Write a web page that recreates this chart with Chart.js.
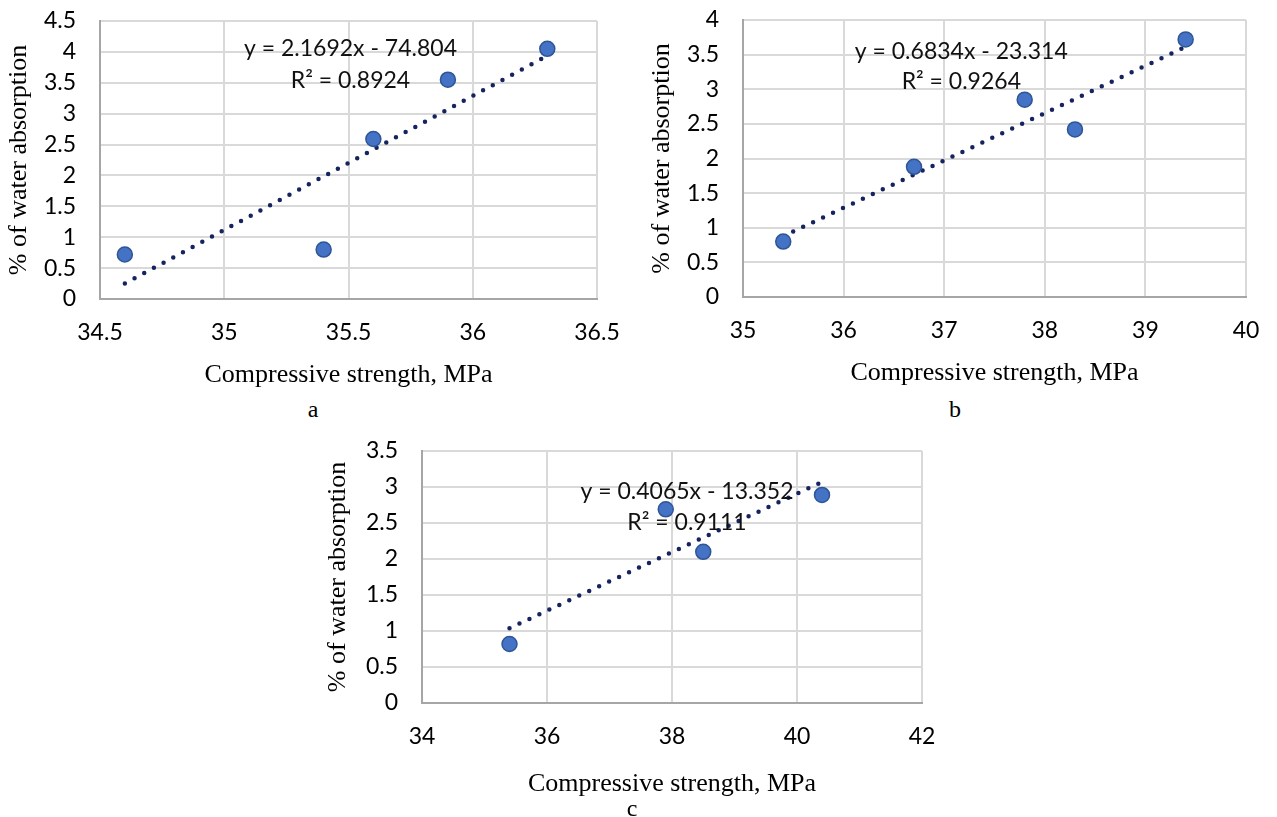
<!DOCTYPE html>
<html>
<head>
<meta charset="utf-8">
<script src="https://cdn.jsdelivr.net/npm/chart.js@4.4.1/dist/chart.umd.min.js"></script>
<style>
  body { margin: 0; background: #fff; width: 1277px; height: 817px; position: relative; overflow: hidden; }
  canvas { position: absolute; }
  .caption { position: absolute; font-family: "Liberation Serif", "Times New Roman", serif; font-size: 24px; color: #000; transform: translate(-50%, -50%); }
</style>
</head>
<body>
<canvas id="chartA" width="640" height="395" style="left:0;top:0"></canvas>
<canvas id="chartB" width="637" height="395" style="left:640px;top:0"></canvas>
<canvas id="chartC" width="620" height="372" style="left:320px;top:430px"></canvas>
<div class="caption" style="left:313px;top:409px">a</div>
<div class="caption" style="left:955px;top:409px">b</div>
<div class="caption" style="left:632px;top:808px">c</div>

<script>
// compressive strength (MPa) vs water absorption (%) for three mixes
const strengthA = [34.6, 35.4, 35.6, 35.9, 36.3];
const absorptionA = [0.72, 0.8, 2.59, 3.55, 4.05];
const fitA = [2.1692, -74.804, 0.8924];

const strengthB = [35.4, 36.7, 37.8, 38.3, 39.4];
const absorptionB = [0.8, 1.88, 2.85, 2.42, 3.72];
const fitB = [0.6834, -23.314, 0.9264];

const strengthC = [35.4, 37.9, 38.5, 40.4];
const absorptionC = [0.82, 2.69, 2.1, 2.89];
const fitC = [0.4065, -13.352, 0.9111];

// axis ranges: [min, max, step]
const xAxisA = [34.5, 36.5, 0.5];
const yAxisA = [0, 4.5, 0.5];
const xAxisB = [35, 40, 1];
const yAxisB = [0, 4, 0.5];
const xAxisC = [34, 42, 2];
const yAxisC = [0, 3.5, 0.5];

const tickFont = { family: "Lato, 'Open Sans', sans-serif", size: 23 };
const titleFont = { family: "'Liberation Serif', 'Times New Roman', serif", size: 26 };

// writes the trendline equation and R² at a spot given in data units
const equationLabel = {
  id: 'equationLabel',
  afterDatasetsDraw(chart, args, opts) {
    const { ctx, scales } = chart;
    const px = scales.x.getPixelForValue(opts.x);
    ctx.save();
    ctx.font = tickFont.size + 'px ' + tickFont.family;
    ctx.fillStyle = '#111';
    ctx.textAlign = 'center';
    ctx.textBaseline = 'middle';
    ctx.fillText(opts.lines[0], px, scales.y.getPixelForValue(opts.y1));
    ctx.fillText(opts.lines[1], px, scales.y.getPixelForValue(opts.y2));
    ctx.restore();
  }
};

function fmtFit(fit) {
  const sign = fit[1] < 0 ? ' - ' : ' + ';
  return ['y = ' + fit[0] + 'x' + sign + Math.abs(fit[1]), 'R² = ' + fit[2]];
}

function makeChart(id, xs, ys, fit, xAxis, yAxis, box) {
  const points = xs.map((x, i) => ({ x: x, y: ys[i] }));
  const lo = Math.min(...xs), hi = Math.max(...xs);
  const trend = [lo, hi].map(x => ({ x: x, y: fit[0] * x + fit[1] }));

  new Chart(document.getElementById(id), {
    type: 'scatter',
    data: {
      datasets: [
        {
          data: points,
          backgroundColor: '#4472C4',
          borderColor: '#2F5597',
          borderWidth: 1.5,
          pointRadius: 7.5
        },
        {
          type: 'line',
          data: trend,
          borderColor: '#15235F',
          borderWidth: 4.5,
          borderDash: [0, 11],
          borderCapStyle: 'round',
          pointRadius: 0,
          fill: false
        }
      ]
    },
    options: {
      responsive: false,
      animation: false,
      layout: { padding: { top: box.top, right: box.right, left: 0, bottom: 0 } },
      plugins: {
        legend: { display: false },
        tooltip: { enabled: false },
        equationLabel: { lines: fmtFit(fit), x: box.labelX, y1: box.labelY1, y2: box.labelY2 }
      },
      scales: {
        x: {
          type: 'linear',
          min: xAxis[0], max: xAxis[1],
          ticks: { stepSize: xAxis[2], autoSkip: false, font: tickFont, color: '#000', padding: 20, callback: v => String(v) },
          grid: { color: '#D9D9D9', lineWidth: 2, drawTicks: false },
          border: { color: '#A6A6A6', width: 2 },
          title: { display: true, text: 'Compressive strength, MPa', font: titleFont, color: '#000', padding: { top: 0, bottom: box.xTitlePad } },
          afterFit(scale) {
            scale.height = box.xAxisH;
            scale.paddingLeft = 0;
            scale.paddingRight = 0;
          }
        },
        y: {
          min: yAxis[0], max: yAxis[1],
          ticks: { stepSize: yAxis[2], autoSkip: false, font: tickFont, color: '#000', padding: 24, callback: v => String(v) },
          grid: { color: '#D9D9D9', lineWidth: 2, drawTicks: false },
          border: { color: '#A6A6A6', width: 2 },
          title: { display: true, text: '% of water absorption', font: titleFont, color: '#000', padding: { top: box.yTitlePad, bottom: 0 } },
          afterFit(scale) {
            scale.width = box.yAxisW;
            scale.paddingTop = 0;
            scale.paddingBottom = 0;
          }
        }
      }
    },
    plugins: [equationLabel]
  });
}

makeChart('chartA', strengthA, absorptionA, fitA, xAxisA, yAxisA,
  { top: 21, right: 43, yAxisW: 100, xAxisH: 96, xTitlePad: 4, yTitlePad: 4, labelX: 35.508, labelY1: 4.05, labelY2: 3.53 });

makeChart('chartB', strengthB, absorptionB, fitB, xAxisB, yAxisB,
  { top: 20, right: 31, yAxisW: 103, xAxisH: 98, xTitlePad: 6, yTitlePad: 7, labelX: 37.17, labelY1: 3.54, labelY2: 3.11 });

makeChart('chartC', strengthC, absorptionC, fitC, xAxisC, yAxisC,
  { top: 21, right: 18, yAxisW: 102, xAxisH: 99, xTitlePad: 2, yTitlePad: 3, labelX: 38.24, labelY1: 2.93, labelY2: 2.51 });
</script>
</body>
</html>
